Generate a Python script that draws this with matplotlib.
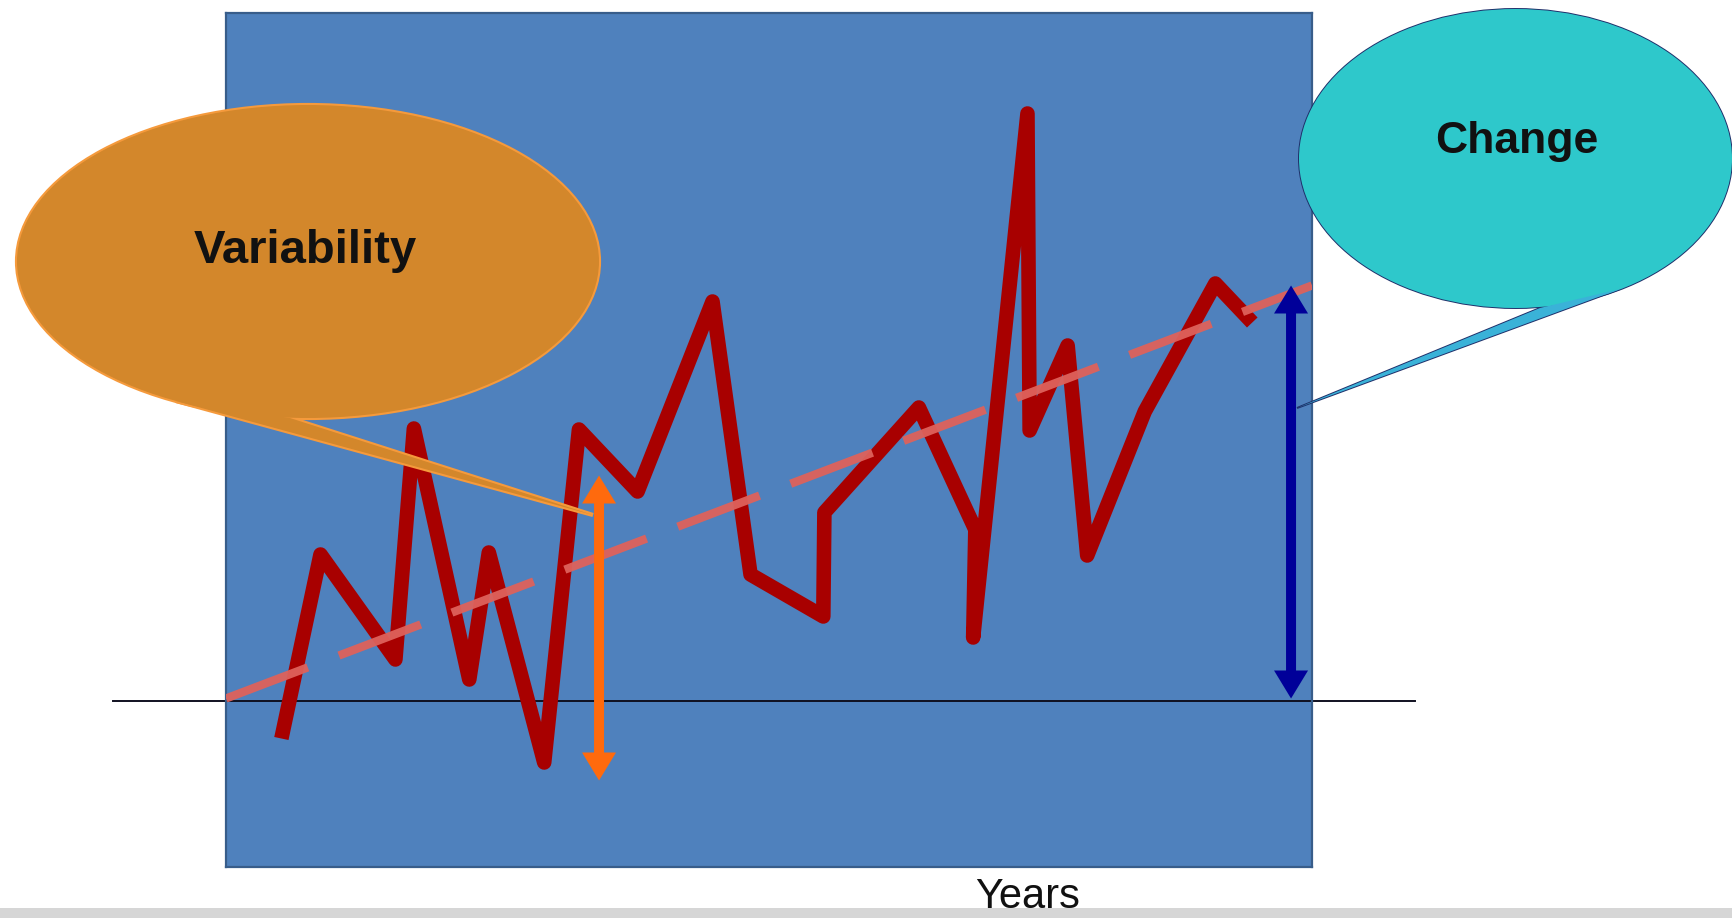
import matplotlib.pyplot as plt
from matplotlib.patches import Ellipse, Polygon, Rectangle

# ---- data (x: years along the panel, 0-100; y: anomaly, baseline = 0) ----
years = [5.1, 8.7, 15.6, 17.3, 22.4, 24.2, 29.3, 32.5, 37.9, 44.8, 48.3, 55.0,
         55.1, 63.8, 69.0, 68.8, 73.8, 74.0, 77.5, 79.3, 84.6, 91.1, 94.5]
values = [-0.38, 1.46, 0.41, 2.72, 0.21, 1.48, -0.62, 2.71, 2.09, 3.99, 1.26, 0.84,
          1.88, 2.93, 1.71, 0.63, 5.87, 2.70, 3.55, 1.45, 2.89, 4.17, 3.78]
trend_x = [0, 100]
trend_y = [0.02, 4.15]
baseline_x = [-10.4, 109.5]
variability_x = 34.35
variability_range = [-0.80, 2.25]
change_x = 98.07
labels = ['Variability', 'Change', 'Years']

W, H = 1733, 918
fig = plt.figure(figsize=(W / 100, H / 100), dpi=100)

# main panel = the blue rectangle
left, right, top, bottom = 226, 1312, 13, 867
ax = fig.add_axes([left / W, (H - bottom) / H, (right - left) / W, (bottom - top) / H])
ax.set_facecolor('#4F81BD')
ax.set_xlim(0, 100)
ax.set_ylim(-1.665, 6.875)
ax.set_xticks([])
ax.set_yticks([])
for s in ax.spines.values():
    s.set_color('#385D8A')
    s.set_linewidth(1.6)

ax.plot(baseline_x, [0, 0], color='#101020', lw=1.4, clip_on=False, zorder=2)
ax.plot(years, values, color='#A80000', lw=10.5, solid_joinstyle='round',
        solid_capstyle='butt', zorder=3)
ax.plot(trend_x, trend_y, color='#DE625B', lw=6, dashes=(10.5, 4.0),
        dash_capstyle='butt', alpha=0.95, zorder=4)

# pixel -> data unit helpers for arrow shapes
xu = 100 / (right - left)
yu = 8.54 / (bottom - top)


def double_arrow(x, y0, y1, color):
    mid = (y0 + y1) / 2
    for end in (y0, y1):
        ax.arrow(x, mid, 0, end - mid, width=10 * xu, head_width=34 * xu,
                 head_length=28 * yu, length_includes_head=True,
                 fc=color, ec='none', lw=0, zorder=5)


double_arrow(variability_x, variability_range[0], variability_range[1], '#FF6A0D')
double_arrow(change_x, trend_y[0], trend_y[1], '#000099')

# overlay in pixel coordinates for callouts and labels
ov = fig.add_axes([0, 0, 1, 1], zorder=5)
ov.set_xlim(0, W)
ov.set_ylim(H, 0)
ov.axis('off')
ov.patch.set_alpha(0)

# Variability callout
o_fill, o_edge = '#D3872B', '#F59A3C'
e1 = dict(xy=(308, 261.5), width=582, height=313)
t1 = [(176, 401), (593, 515), (290, 418)]
ov.add_patch(Ellipse(**e1, fc=o_edge, ec=o_edge, lw=3, zorder=1))
ov.add_patch(Polygon(t1, closed=True, fc=o_edge, ec=o_edge, lw=3, zorder=1))
ov.add_patch(Ellipse(**e1, fc=o_fill, ec='none', zorder=2))
ov.add_patch(Polygon(t1, closed=True, fc=o_fill, ec='none', zorder=2))
ov.text(305, 263, labels[0], ha='center', va='baseline', fontsize=34,
        fontweight='bold', family='Liberation Sans', color='#111111', zorder=3)

# Change callout
c_fill, c_edge = '#2EC8CB', '#1F2F6A'
e2 = dict(xy=(1515.5, 158.5), width=433, height=299)
t2 = [(1620, 289), (1297, 408), (1540, 308)]
ov.add_patch(Ellipse(**e2, fc=c_edge, ec=c_edge, lw=1.4, zorder=1))
ov.add_patch(Polygon(t2, closed=True, fc=c_edge, ec=c_edge, lw=1.4, zorder=1))
ov.add_patch(Ellipse(**e2, fc=c_fill, ec='none', zorder=2))
ov.add_patch(Polygon(t2, closed=True, fc='#3AB2D8', ec='none', zorder=2))
ov.text(1517, 153, labels[1], ha='center', va='baseline', fontsize=32,
        fontweight='bold', family='Liberation Sans', color='#111111', zorder=3)

# bottom strip and axis label
ov.add_patch(Rectangle((0, 908), W, 10, fc='#D6D6D6', ec='none', zorder=1))
ov.text(1028, 917, labels[2], ha='center', va='bottom', fontsize=30,
        family='Liberation Sans', color='#111111', zorder=3)

fig.savefig('out.png', dpi=100)
